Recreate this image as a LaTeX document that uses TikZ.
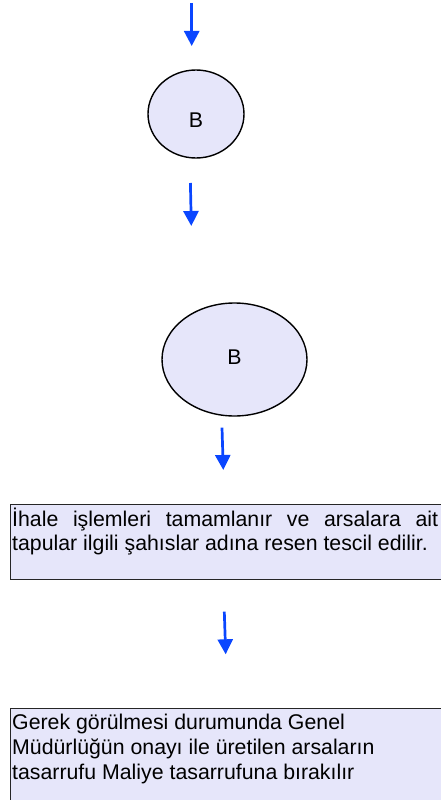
\documentclass[tikz,border=0pt]{standalone}
\usepackage{fontspec}
\setmainfont{Liberation Sans}
\usetikzlibrary{shapes.geometric,arrows.meta}
\definecolor{lav}{RGB}{230,230,250}
\definecolor{arrblue}{RGB}{10,70,255}
\tikzset{
  x=1pt, y=-1pt,
  ell/.style={ellipse, draw=black, line width=1.4pt, fill=lav, inner sep=0pt},
  boxst/.style={rectangle, draw=black!85, line width=1.2pt, fill=lav, inner sep=0pt, anchor=north west},
  lab/.style={inner sep=0pt, font=\fontsize{21.3}{24}\selectfont},
  txt/.style={inner sep=0pt, anchor=base west, font=\fontsize{21.3}{24}\selectfont},
  flow/.style={draw=arrblue, line width=2.7pt, -{Triangle[length=15pt,width=15pt]}}
}
\begin{document}
\begin{tikzpicture}
\useasboundingbox (0,0) rectangle (441,800);
\clip (0,0) rectangle (441,800);
% arrows
\coordinate (a1s) at (191.7,3);
\coordinate (a1e) at (191.7,46);
\draw[flow] (a1s) -- (a1e);
\node[ell, minimum width=96pt, minimum height=88pt] (e1) at (196,114) {};
\node[lab] (b1) at (196,120.5) {B};
\coordinate (a2s) at (190.4,183);
\coordinate (a2e) at (191.3,226);
\draw[flow] (a2s) -- (a2e);
\node[ell, minimum width=145pt, minimum height=113pt] (e2) at (234.5,359.5) {};
\node[lab] (b2) at (234.5,357.5) {B};
\coordinate (a3s) at (222,427.7);
\coordinate (a3e) at (223.3,470);
\draw[flow] (a3s) -- (a3e);
% box 1
\node[boxst, minimum width=460pt, minimum height=75pt] (box1) at (10,504) {};
\node[txt] (t11) at (12,526) {\makebox[426pt][s]{İhale işlemleri tamamlanır ve arsalara ait}};
\node[txt] (t12) at (12,550.5) {tapular ilgili şahıslar adına resen tescil edilir.};
\coordinate (a4s) at (224.3,611.7);
\coordinate (a4e) at (225.7,654.3);
\draw[flow] (a4s) -- (a4e);
% box 2
\node[boxst, minimum width=460pt, minimum height=120pt] (box2) at (10,708) {};
\node[txt] (t21) at (12,729) {Gerek görülmesi durumunda Genel};
\node[txt] (t22) at (12,754) {Müdürlüğün onayı ile üretilen arsaların};
\node[txt] (t23) at (12,779) {tasarrufu Maliye tasarrufuna bırakılır};
\end{tikzpicture}
\end{document}
